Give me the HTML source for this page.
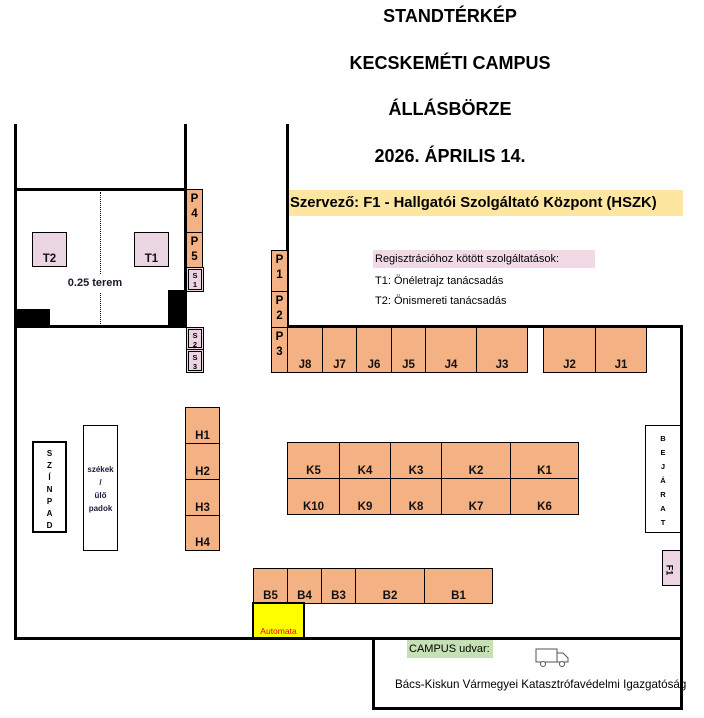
<!DOCTYPE html>
<html><head><meta charset="utf-8"><style>
body{margin:0;width:704px;height:718px;position:relative;background:#fff;font-family:"Liberation Sans",sans-serif;overflow:hidden}
div{position:absolute;box-sizing:border-box}
.l{background:#000}
.s{background:#f4b183;border:1px solid #000;font-weight:bold;font-size:11.5px;color:#111;display:flex;align-items:flex-end;justify-content:center;padding-bottom:1px}
.p{background:#f4b183;border:1px solid #000;font-weight:bold;font-size:11.5px;line-height:15px;text-align:center;padding-top:2px}
.pk{background:#ecd5e2;border:3px double #000;font-weight:bold;font-size:7.5px;line-height:9px;text-align:center;padding-top:1px}
.t{font-weight:bold;font-size:18px;width:300px;left:300px;text-align:center;color:#000}
.v{font-weight:bold;font-size:8px;text-align:center}
</style></head><body>
<div class="t" style="top:6px">STANDTÉRKÉP</div>
<div class="t" style="top:53px">KECSKEMÉTI CAMPUS</div>
<div class="t" style="top:99px">ÁLLÁSBÖRZE</div>
<div class="t" style="top:146px">2026. ÁPRILIS 14.</div>
<div style="left:288px;top:190px;width:395px;height:26px;background:#fde6a0;font-weight:bold;font-size:14.8px;line-height:26px;padding-left:2px;white-space:nowrap">Szervező: F1 - Hallgatói Szolgáltató Központ (HSZK)</div>
<div style="left:373px;top:250px;width:222px;height:18px;background:#f2d9e6;font-size:11px;line-height:18px;padding-left:2px">Regisztrációhoz kötött szolgáltatások:</div>
<div style="left:375px;top:275px;font-size:11px">T1: Önéletrajz tanácsadás</div>
<div style="left:375px;top:295px;font-size:11px">T2: Önismereti tanácsadás</div>

<!-- walls -->
<div class="l" style="left:14px;top:124px;width:3px;height:516px"></div>
<div class="l" style="left:14px;top:637px;width:359px;height:3px"></div>
<div class="l" style="left:184px;top:124px;width:3px;height:204px"></div>
<div class="l" style="left:286px;top:124px;width:3px;height:204px"></div>
<div class="l" style="left:14px;top:188px;width:173px;height:3px"></div>
<div class="l" style="left:14px;top:325px;width:173px;height:3px"></div>
<div class="l" style="left:286px;top:325px;width:397px;height:3px"></div>
<div class="l" style="left:680px;top:325px;width:3px;height:385px"></div>
<div class="l" style="left:372px;top:637px;width:311px;height:3px"></div>
<div class="l" style="left:372px;top:637px;width:3px;height:73px"></div>
<div class="l" style="left:372px;top:707px;width:311px;height:3px"></div>
<div class="l" style="left:15px;top:309px;width:35px;height:18px"></div>
<div class="l" style="left:168px;top:290px;width:18px;height:37px"></div>
<div style="left:100px;top:192px;height:136px;border-left:1px dotted #000"></div>
<div style="left:60px;top:274px;width:70px;height:18px;background:#fff;font-size:11px;text-align:center;font-weight:bold;line-height:18px;color:#1a1a2a">0.25 terem</div>

<div class="s" style="left:32px;top:232px;width:35px;height:35px;background:#ecd5e2">T2</div>
<div class="s" style="left:134px;top:232px;width:35px;height:35px;background:#ecd5e2">T1</div>

<div class="p" style="left:186px;top:189px;width:17px;height:44px">P<br>4</div>
<div class="p" style="left:186px;top:232px;width:17px;height:36px">P<br>5</div>
<div class="pk" style="left:186px;top:267px;width:18px;height:25px">S<br>1</div>
<div class="pk" style="left:186px;top:327px;width:18px;height:23px">S<br>2</div>
<div class="pk" style="left:186px;top:349px;width:18px;height:24px">S<br>3</div>
<div class="p" style="left:271px;top:250px;width:17px;height:42px">P<br>1</div>
<div class="p" style="left:271px;top:291px;width:17px;height:37px">P<br>2</div>
<div class="p" style="left:271px;top:327px;width:17px;height:46px">P<br>3</div>

<div class="s" style="left:287px;top:327px;width:36px;height:46px">J8</div>
<div class="s" style="left:322px;top:327px;width:35px;height:46px">J7</div>
<div class="s" style="left:356px;top:327px;width:36px;height:46px">J6</div>
<div class="s" style="left:391px;top:327px;width:35px;height:46px">J5</div>
<div class="s" style="left:425px;top:327px;width:52px;height:46px">J4</div>
<div class="s" style="left:476px;top:327px;width:52px;height:46px">J3</div>
<div class="s" style="left:543px;top:327px;width:53px;height:46px">J2</div>
<div class="s" style="left:595px;top:327px;width:52px;height:46px">J1</div>

<div class="s" style="left:185px;top:407px;width:35px;height:37px">H1</div>
<div class="s" style="left:185px;top:443px;width:35px;height:37px">H2</div>
<div class="s" style="left:185px;top:479px;width:35px;height:37px">H3</div>
<div class="s" style="left:185px;top:515px;width:35px;height:36px">H4</div>

<div class="s" style="left:287px;top:442px;width:53px;height:37px">K5</div>
<div class="s" style="left:339px;top:442px;width:52px;height:37px">K4</div>
<div class="s" style="left:390px;top:442px;width:52px;height:37px">K3</div>
<div class="s" style="left:441px;top:442px;width:70px;height:37px">K2</div>
<div class="s" style="left:510px;top:442px;width:69px;height:37px">K1</div>
<div class="s" style="left:287px;top:478px;width:53px;height:37px">K10</div>
<div class="s" style="left:339px;top:478px;width:52px;height:37px">K9</div>
<div class="s" style="left:390px;top:478px;width:52px;height:37px">K8</div>
<div class="s" style="left:441px;top:478px;width:70px;height:37px">K7</div>
<div class="s" style="left:510px;top:478px;width:69px;height:37px">K6</div>

<div class="s" style="left:253px;top:568px;width:35px;height:36px">B5</div>
<div class="s" style="left:287px;top:568px;width:35px;height:36px">B4</div>
<div class="s" style="left:321px;top:568px;width:35px;height:36px">B3</div>
<div class="s" style="left:355px;top:568px;width:70px;height:36px">B2</div>
<div class="s" style="left:424px;top:568px;width:69px;height:36px">B1</div>
<div style="left:252px;top:602px;width:53px;height:37px;background:#ff0;border:2px solid #000;color:#e00;font-size:8.5px;text-align:center;padding-top:22px">Automata</div>

<div class="v" style="left:32px;top:441px;width:35px;height:92px;border:2px solid #000;line-height:12px;padding-top:5px">S<br>Z<br>Í<br>N<br>P<br>A<br>D</div>
<div class="v" style="left:83px;top:425px;width:35px;height:126px;border:1px solid #000;line-height:13px;padding-top:37px;color:#1a1a3a">székek<br>/<br>ülő<br>padok</div>
<div class="v" style="left:645px;top:425px;width:36px;height:108px;border:1px solid #000;line-height:14px;padding-top:6px;font-size:7.5px">B<br>E<br>J<br>Á<br>R<br>A<br>T</div>
<div style="left:662px;top:550px;width:19px;height:36px;background:#ecd5e2;border:1px solid #000"><div style="left:1px;top:14px;transform:rotate(90deg);font-weight:bold;font-size:9px">F1</div></div>

<div style="left:407px;top:640px;width:86px;height:18px;background:#c5e0b4;font-size:11px;line-height:18px;padding-left:2px">CAMPUS udvar:</div>
<svg style="position:absolute;left:535px;top:648px" width="35" height="20" viewBox="0 0 35 20" fill="none" stroke="#555" stroke-width="1"><rect x="1" y="1" width="21" height="13"/><path d="M22 5h6l5 5v4h-11z"/><circle cx="8" cy="16" r="2.5" fill="#fff"/><circle cx="27" cy="16" r="2.5" fill="#fff"/></svg>
<div style="left:395px;top:678px;font-size:11.6px;white-space:nowrap">Bács-Kiskun Vármegyei Katasztrófavédelmi Igazgatóság</div>
</body></html>
